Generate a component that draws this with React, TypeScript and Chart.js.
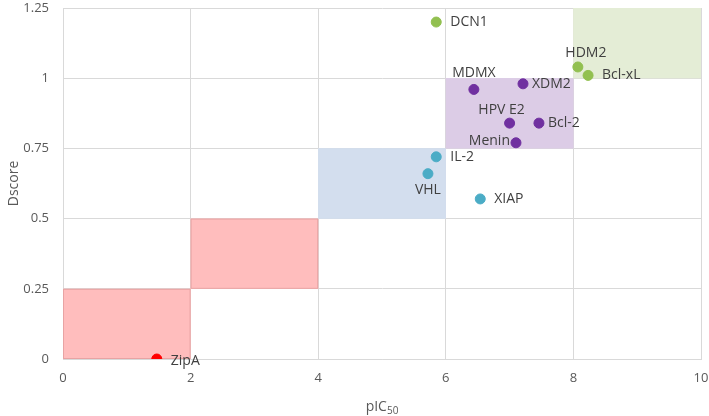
import { useRef, useEffect } from 'react';
import Chart from 'chart.js/auto';

// protein targets: pIC50 vs Dscore
const targets = ['ZipA', 'DCN1', 'HDM2', 'Bcl-xL', 'MDMX', 'XDM2', 'HPV E2', 'Bcl-2', 'Menin', 'IL-2', 'VHL', 'XIAP'];
const pic50 = [1.47, 5.85, 8.07, 8.23, 6.44, 7.21, 7.0, 7.46, 7.1, 5.85, 5.72, 6.54];
const dscore = [0.0, 1.2, 1.04, 1.01, 0.96, 0.98, 0.84, 0.84, 0.77, 0.72, 0.66, 0.57];
const groups = ['red', 'green', 'green', 'green', 'purple', 'purple', 'purple', 'purple', 'purple', 'blue', 'blue', 'blue'];

// shaded regions
const regionX0 = [0, 2, 4, 6, 8];
const regionX1 = [2, 4, 6, 8, 10];
const regionY0 = [0, 0.25, 0.5, 0.75, 1];
const regionY1 = [0.25, 0.5, 0.75, 1, 1.25];
const regionColors = ['#FFBDBD', '#FFBDBD', '#D3DEEE', '#DCCCE6', '#E4EDD6'];
const regionBorders = ['#E8A3A3', '#E8A3A3', '#D3DEEE', '#DCCCE6', '#E4EDD6'];

const xTicks = [0, 2, 4, 6, 8, 10];
const yTicks = [0, 0.25, 0.5, 0.75, 1, 1.25];

const groupColors: Record<string, string> = {
  red: '#FF0000',
  green: '#92C050',
  purple: '#7030A0',
  blue: '#4BACC6',
};

// label placement relative to its point: align, dx, dy (px)
const labelAlign = ['left', 'left', 'center', 'left', 'center', 'left', 'center', 'left', 'right', 'left', 'center', 'left'];
const labelDx = [14, 14, 8, 14, 0, 9, -8, 9, -6, 14, 0, 14];
const labelDy = [2, 0, -14, 0, -16, 0, -13, 0, -2, 0, 16, 0];

const FONT = "'Open Sans', sans-serif";

const regionsPlugin = {
  id: 'regions',
  beforeDatasetsDraw(chart: any) {
    const { ctx, scales } = chart;
    const x = scales.x;
    const y = scales.y;
    ctx.save();
    regionX0.forEach((_, i) => {
      const l = x.getPixelForValue(regionX0[i]);
      const r = x.getPixelForValue(regionX1[i]);
      const t = y.getPixelForValue(regionY1[i]);
      const b = y.getPixelForValue(regionY0[i]);
      ctx.fillStyle = regionColors[i];
      ctx.fillRect(l, t, r - l, b - t);
      ctx.strokeStyle = regionBorders[i];
      ctx.lineWidth = 1;
      ctx.strokeRect(l + 0.5, t + 0.5, r - l - 1, b - t - 1);
    });
    ctx.restore();
  },
};

const labelsPlugin = {
  id: 'pointLabels',
  afterDatasetsDraw(chart: any) {
    const { ctx } = chart;
    const meta = chart.getDatasetMeta(0);
    ctx.save();
    ctx.font = `14px ${FONT}`;
    ctx.fillStyle = '#404040';
    ctx.textBaseline = 'middle';
    meta.data.forEach((pt: any, i: number) => {
      ctx.textAlign = labelAlign[i];
      ctx.fillText(targets[i], pt.x + labelDx[i], pt.y + labelDy[i]);
    });
    ctx.restore();
  },
};

const titlesPlugin = {
  id: 'axisTitles',
  afterDraw(chart: any) {
    const { ctx, chartArea } = chart;
    ctx.save();
    ctx.fillStyle = '#595959';
    ctx.textBaseline = 'alphabetic';
    // x title with subscript
    const main = 'pIC';
    ctx.font = `14px ${FONT}`;
    const w1 = ctx.measureText(main).width;
    ctx.font = `10px ${FONT}`;
    const w2 = ctx.measureText('50').width;
    const cx = (chartArea.left + chartArea.right) / 2;
    const sx = cx - (w1 + w2) / 2;
    ctx.font = `14px ${FONT}`;
    ctx.textAlign = 'left';
    ctx.fillText(main, sx, 411);
    ctx.font = `10px ${FONT}`;
    ctx.fillText('50', sx + w1, 414);
    // y title
    ctx.font = `14px ${FONT}`;
    ctx.translate(18, (chartArea.top + chartArea.bottom) / 2);
    ctx.rotate(-Math.PI / 2);
    ctx.textAlign = 'center';
    ctx.fillText('Dscore', 0, 0);
    ctx.restore();
  },
};

const App = () => {
  const chartRef = useRef<HTMLCanvasElement | null>(null);
  const chartInstance = useRef<Chart | null>(null);

  useEffect(() => {
    if (!chartRef.current) return;
    if (chartInstance.current) chartInstance.current.destroy();

    chartInstance.current = new Chart(chartRef.current, {
      type: 'scatter',
      data: {
        datasets: [
          {
            data: pic50.map((v, i) => ({ x: v, y: dscore[i] })),
            pointBackgroundColor: groups.map((g) => groupColors[g]),
            pointBorderColor: groups.map((g) => groupColors[g]),
            pointRadius: 5,
            pointHoverRadius: 5,
          },
        ],
      },
      options: {
        animation: false,
        responsive: true,
        maintainAspectRatio: false,
        layout: { padding: { top: 8, right: 8, left: 0, bottom: 0 } },
        plugins: {
          legend: { display: false },
          tooltip: { enabled: false },
        },
        scales: {
          x: {
            type: 'linear',
            min: 0,
            max: 10,
            afterBuildTicks: (scale: any) => {
              scale.ticks = xTicks.map((v) => ({ value: v }));
            },
            afterFit: (scale: any) => {
              scale.height = 57;
              scale.paddingLeft = 0;
              scale.paddingRight = 0;
            },
            grid: { color: '#D9D9D9', drawTicks: false },
            border: { color: '#D9D9D9' },
            ticks: {
              padding: 11,
              color: '#595959',
              font: { family: FONT, size: 13 },
            },
          },
          y: {
            type: 'linear',
            min: 0,
            max: 1.25,
            afterBuildTicks: (scale: any) => {
              scale.ticks = yTicks.map((v) => ({ value: v }));
            },
            afterFit: (scale: any) => {
              scale.width = 63;
              scale.paddingTop = 0;
              scale.paddingBottom = 0;
            },
            grid: { color: '#D9D9D9', drawTicks: false },
            border: { color: '#D9D9D9' },
            ticks: {
              padding: 14,
              color: '#595959',
              font: { family: FONT, size: 13 },
              callback: (v: any) => String(v),
            },
          },
        },
      },
      plugins: [regionsPlugin, labelsPlugin, titlesPlugin],
    });

    return () => {
      if (chartInstance.current) {
        chartInstance.current.destroy();
        chartInstance.current = null;
      }
    };
  }, []);

  return (
    <div style={{ position: 'absolute', left: 0, top: 0, width: 709, height: 416, background: '#fff' }}>
      <canvas ref={chartRef}></canvas>
    </div>
  );
};

export default App;
